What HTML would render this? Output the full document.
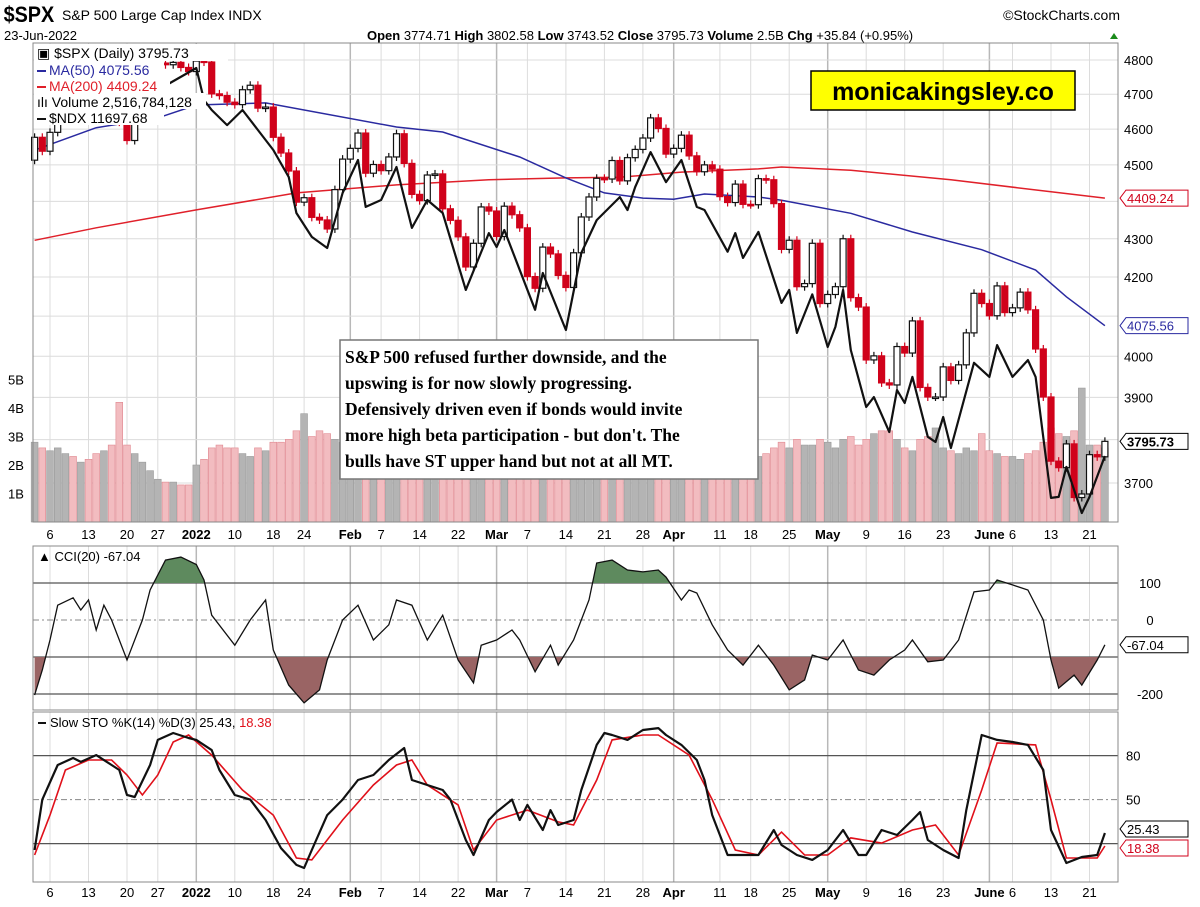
<!DOCTYPE html>
<html><head><meta charset="utf-8">
<style>
body{margin:0;background:#fff;width:1200px;height:907px;overflow:hidden;font-family:"Liberation Sans",sans-serif}
svg{position:absolute;left:0;top:0}
</style></head>
<body>
<svg id="chart" width="1200" height="907" viewBox="0 0 1200 907" xmlns="http://www.w3.org/2000/svg" font-family="Liberation Sans, sans-serif">
<g>
<text x="4" y="22" font-size="22" font-weight="bold" transform="scale(0.9,1)">$SPX</text>
<text x="62" y="20" font-size="14">S&amp;P 500 Large Cap Index  INDX</text>
<text x="4" y="40" font-size="13">23-Jun-2022</text>
<text x="1120" y="20" font-size="14" text-anchor="end">©StockCharts.com</text>
<text x="367" y="40" font-size="13"><tspan font-weight="bold">Open</tspan> 3774.71 <tspan font-weight="bold">High</tspan> 3802.58 <tspan font-weight="bold">Low</tspan> 3743.52 <tspan font-weight="bold">Close</tspan> 3795.73 <tspan font-weight="bold">Volume</tspan> 2.5B <tspan font-weight="bold">Chg</tspan> +35.84 (+0.95%)</text>
<polygon points="1110,39 1118,39 1114,33" fill="#1a8a1a"/>
</g>
<g id="grid"></g>
<g id="vol"></g>
<g id="ma"></g>
<g id="cand"></g>
<g id="ind"></g>
<g id="frames"></g>
<g id="labels"></g>
</svg>
<script>
const prevClose = 4513;
const closes = [4577,4538,
4591,4686,4701,4668,4712,4669,4634,4710,4669,4620,4568,4649,4697,4726,4791,4786,4793,4778,4766,
4797,4794,4701,4696,4677,4670,4713,4726,4660,4663,4577,4533,4483,4398,4410,4357,4350,4326,4432,4516,
4546,4589,4477,4501,4484,4522,4587,4504,4419,4402,4472,4475,4380,4349,4305,4226,4288,4385,4374,
4306,4387,4364,4329,4201,4171,4278,4260,4204,4173,4263,4358,4412,4463,4461,4512,4456,4520,4543,4575,4632,4602,4530,
4546,4583,4525,4481,4500,4488,4413,4397,4447,4392,4391,4462,4459,4394,4272,4296,4175,4183,4288,4132,
4155,4175,4300,4147,4123,3991,4001,3935,3930,4024,4008,4088,3924,3901,3901,3974,3941,3979,4058,4158,4132,
4101,4177,4109,4121,4161,4116,4018,3901,3750,3735,3790,3667,3675,3765,3760,3796];
const volumes = [2.8,2.6,2.5,2.6,2.4,2.3,2.1,2.2,2.4,2.5,2.7,4.2,2.7,2.4,2.1,1.8,1.5,1.4,1.4,1.3,1.3,
2.0,2.2,2.6,2.7,2.6,2.6,2.4,2.3,2.6,2.5,2.8,2.8,2.9,3.2,3.8,3.0,3.2,3.1,2.9,2.8,
2.8,2.9,2.8,2.8,2.6,2.5,2.6,2.9,2.7,2.6,2.5,2.4,2.6,2.9,2.8,2.9,3.4,2.9,3.0,
3.1,2.8,2.6,2.8,3.2,3.4,2.9,2.7,2.6,2.8,2.9,3.2,3.1,3.6,2.6,2.5,2.3,2.4,2.3,2.3,2.6,2.4,2.6,
2.3,2.3,2.4,2.6,2.5,2.3,2.3,2.4,2.3,2.2,2.1,2.3,2.4,2.6,2.8,2.6,2.9,2.7,2.7,2.9,
2.8,2.6,2.9,3.0,2.7,2.9,3.1,3.2,3.2,2.9,2.6,2.5,2.9,3.0,3.3,2.6,2.5,2.4,2.6,2.5,3.1,
2.5,2.4,2.3,2.3,2.2,2.4,2.5,2.8,3.3,3.1,3.0,3.2,4.7,2.7,2.7,2.6];
const ma50Idx = [0,8,16,21,30,47,53,63,69,74,79,83,87,94,97,106,114,123,130,134,139];
const ma50Val = [4541,4604,4632,4669,4675,4606,4592,4522,4464,4423,4409,4406,4420,4412,4403,4368,4318,4271,4218,4149,4076];
const ma200Idx = [0,8,21,34,47,59,69,76,84,94,97,106,119,132,139];
const ma200Val = [4296,4329,4377,4423,4445,4459,4464,4466,4480,4489,4494,4485,4459,4426,4409];
const ndxIdx = [0,2,7,12,16,21,22,23,25,27,29,31,33,34,36,38,40,42,43,45,47,49,51,53,56,59,60,61,65,66,69,71,73,76,77,78,80,82,84,86,87,90,91,92,94,97,98,99,101,103,104,105,106,108,109,111,112,113,114,116,117,118,119,122,124,125,127,129,130,132,133,134,136,137,139];
const ndxVal = [16000,16038,16110,15967,16181,16500,16038,15897,15686,15897,15617,15343,14981,14510,14205,14066,14769,15208,14588,14678,15114,14319,14678,14510,13553,14254,14079,14292,13316,13758,13080,14004,14419,14716,14548,14848,15315,14913,15208,14588,14548,14020,14254,13943,14268,13398,13553,13047,13500,12885,13116,13553,12850,12217,12325,11949,12403,12260,12547,11898,11844,12109,11781,12705,12547,12906,12547,12736,12547,11271,11281,11585,11121,11281,11698];
const cciIdx = [0,1,2,3,5,6,7,8,9,10,12,14,15,17,19,21,22,23,26,28,30,31,33,35,37,38,40,42,44,46,47,49,51,53,55,57,58,60,62,63,65,67,68,70,72,73,75,77,79,81,82,84,85,86,88,90,92,94,96,98,100,101,103,105,107,109,111,113,114,116,118,120,122,124,125,127,129,131,132,133,135,136,138,139];
const cciVal = [-203,-135,-54,40,60,27,54,-27,40,0,-108,0,81,162,170,150,108,13,-68,0,54,-81,-176,-224,-189,-108,0,40,-54,-13,54,40,-54,13,-108,-170,-68,-54,-27,-54,-140,-68,-122,-54,54,154,162,135,130,135,116,54,81,73,-13,-81,-122,-68,-122,-189,-162,-95,-108,-54,-135,-149,-108,-81,-54,-113,-108,-54,76,81,108,95,81,0,-108,-184,-149,-176,-108,-67];
const kIdx = [0,1,3,5,6,8,10,11,12,13,15,16,18,20,21,23,24,26,28,30,32,34,35,36,38,40,42,44,46,48,49,51,53,54,56,57,59,60,62,63,64,66,67,68,70,71,73,74,75,77,79,81,82,84,86,87,88,90,92,94,96,97,99,101,103,105,107,108,110,112,114,115,116,118,120,121,123,125,127,129,131,132,134,136,138,139];
const kVal = [15.7,50,73.6,78.4,75.7,80.4,73.6,70.2,53.2,51.8,73.6,90.7,95.4,92,90.7,83.8,70.2,53.2,50,36.1,17,5.5,3.4,15.7,39.5,50,63.4,66.8,77,85.2,63.4,60,56.6,50,22.5,12.3,36.1,41.6,50,36.1,46.4,29.3,42.9,32.7,36.1,56.6,87.3,95.4,94.1,90.7,97.5,98.8,94.1,87.3,77,63.4,39.5,12.3,12.3,12.3,29.3,19.1,12.3,8.9,15.7,29.3,12.3,12.3,29.3,25.9,36.1,41.6,22.5,15.7,10.2,42.9,94.1,90.7,89.3,87.3,70.2,29.3,6.8,10.9,12.3,27.3];
const dIdx = [0,2,4,7,10,12,14,16,18,20,23,27,31,34,36,40,44,47,49,51,55,57,60,64,68,70,73,75,79,81,85,88,91,94,97,100,103,106,110,114,117,120,123,125,130,132,134,138,139];
const dVal = [12.3,39.5,70.2,77,77,66.8,53.2,66.8,89.3,94.1,80.4,56.6,39.5,10.2,8.9,36.1,60,73.6,77,60,46.4,15.7,36.1,42.9,34.8,32.7,63.4,90.7,94.1,94.1,80.4,50,15.7,12.3,27.9,12.3,12.3,23.9,20.4,29.3,32.7,12.3,56.6,88.6,87.3,50,10.2,10.2,18.4];
const dateLabels = ["6","13","20","27","2022","10","18","24","Feb","7","14","22","Mar","7","14","21","28","Apr","11","18","25","May","9","16","23","June","6","13","21"];
const dateIdx = [2,7,12,16,21,26,31,35,41,45,50,55,60,64,69,74,79,83,89,93,98,103,108,113,118,124,127,132,137];
const priceTicks = [4800,4700,4600,4500,4400,4300,4200,4100,4000,3900,3800,3700];
const volTicks = [1,2,3,4,5];
const cciTicks = [100,0,-100,-200];
const stoTicks = [80,50,20];

const NS="http://www.w3.org/2000/svg";
const L=33,R=1118;
const xS=i=>34.6+7.7*i;
const yP=p=>60+1625*Math.log(4800/p);
const yN=v=>68+1128*Math.log(16500/v);
const yV=v=>522-28.5*v;
const yC=v=>620-0.37*v;
const yS=v=>873-1.467*v;
function mk(tag,attrs,parent){const e=document.createElementNS(NS,tag);for(const k in attrs)e.setAttribute(k,attrs[k]);parent.appendChild(e);return e;}
const G=id=>document.getElementById(id);
function txt(parent,x,y,s,size,extra){const t=mk('text',Object.assign({x:x,y:y,'font-size':size},extra||{}),parent);t.textContent=s;return t;}
function poly(idx,val,fy){return idx.map((d,j)=>xS(d).toFixed(1)+','+fy(val[j]).toFixed(1)).join(' ');}

const grid=G('grid');
const panels=[[43,522],[546,710],[712,882]];
dateIdx.forEach((d,j)=>{
  const major=isNaN(+dateLabels[j])||dateLabels[j]==="2022";
  panels.forEach(p=>{const l=mk('line',{x1:xS(d),x2:xS(d),y1:p[0],y2:p[1],stroke:major?'#b8b8b8':'#dcdcdc','stroke-width':major?1.5:1},grid);
  
  });
});
priceTicks.forEach(p=>{const l=mk('line',{x1:L,x2:R,y1:yP(p),y2:yP(p),stroke:'#dcdcdc'},grid);
  
  });
cciTicks.forEach(v=>{const l=mk('line',{x1:L,x2:R,y1:yC(v),y2:yC(v),stroke:v===0?'#888':'#555','stroke-dasharray':v===0?'6,3,2,3':'', 'stroke-width':v===0?1:1.2},grid);
  
  });
stoTicks.forEach(v=>{const l=mk('line',{x1:L,x2:R,y1:yS(v),y2:yS(v),stroke:v===50?'#888':'#555','stroke-dasharray':v===50?'6,3,2,3':'','stroke-width':v===50?1:1.2},grid);
  
  });

const vol=G('vol');
volumes.forEach((v,i)=>{const prev=i?closes[i-1]:prevClose;const down=closes[i]<prev;
  const b=mk('rect',{x:xS(i)-3.4,y:yV(v),width:6.8,height:522-yV(v),fill:down?'#f2bcc0':'#b4b4b4',stroke:down?'#e08890':'#9a9a9a','stroke-width':0.6},vol);
  
  });

const ma=G('ma');
const m200=mk('polyline',{points:poly(ma200Idx,ma200Val,yP),fill:'none',stroke:'#e0202a','stroke-width':1.5},ma);

const m50=mk('polyline',{points:poly(ma50Idx,ma50Val,yP),fill:'none',stroke:'#2a2aa0','stroke-width':1.5},ma);


const cand=G('cand');
closes.forEach((c,i)=>{const o=i?closes[i-1]:prevClose;const up=c>=o;const x=xS(i);
  const top=yP(Math.max(o,c)),bot=yP(Math.min(o,c));
  const g=mk('g',{},cand);
  
  
  const col=up?'#111':'#d0021b';
  mk('line',{x1:x,x2:x,y1:top-4,y2:bot+4,stroke:col,'stroke-width':1.2},g);
  mk('rect',{x:x-3,y:top,width:6,height:Math.max(1.5,bot-top),fill:up?'#fff':'#d0021b',stroke:col,'stroke-width':1.2},g);
});
const nd=mk('polyline',{points:poly(ndxIdx,ndxVal,yN),fill:'none',stroke:'#111','stroke-width':2.2,'stroke-linejoin':'round'},cand);


const ind=G('ind');
const defs=mk('defs',{},ind);
const c1=mk('clipPath',{id:'cAbove'},defs);mk('rect',{x:L,y:546,width:R-L,height:yC(100)-546},c1);
const c2=mk('clipPath',{id:'cBelow'},defs);mk('rect',{x:L,y:yC(-100),width:R-L,height:710-yC(-100)},c2);
const cpts=poly(cciIdx,cciVal,yC);
const x0=xS(cciIdx[0]),x1=xS(cciIdx[cciIdx.length-1]);
const fa=mk('polygon',{points:x0+','+yC(100)+' '+cpts+' '+x1+','+yC(100),fill:'#5e8a5e','clip-path':'url(#cAbove)'},ind);

const fb=mk('polygon',{points:x0+','+yC(-100)+' '+cpts+' '+x1+','+yC(-100),fill:'#9a6464','clip-path':'url(#cBelow)'},ind);

const cl=mk('polyline',{points:cpts,fill:'none',stroke:'#111','stroke-width':1.3},ind);

const dl=mk('polyline',{points:poly(dIdx,dVal,yS),fill:'none',stroke:'#e0101a','stroke-width':1.6},ind);

const kl=mk('polyline',{points:poly(kIdx,kVal,yS),fill:'none',stroke:'#111','stroke-width':2.2,'stroke-linejoin':'round'},ind);


const fr=G('frames');
panels.forEach(p=>{const r=mk('rect',{x:L,y:p[0],width:R-L,height:p[1]-p[0],fill:'none',stroke:'#888'},fr);
  });

const lab=G('labels');
priceTicks.forEach(p=>{if(p===4400||p===4100||p===3800)return;const t=txt(lab,1124,yP(p)+5,String(p),13);
  });
volTicks.forEach(v=>{const t=txt(lab,8,yV(v)+5,v+'B',13);
  });
cciTicks.forEach(v=>{if(v===-100)return;const t=txt(lab,1150,yC(v)+5,String(v),13,{'text-anchor':'middle'});
  });
stoTicks.forEach(v=>{if(v===20)return;const t=txt(lab,1126,yS(v)+5,String(v),13);
  });
function tag(y,s,col,bold,name){const g=mk('g',{},lab);
  
  
  mk('polygon',{points:`1120,${y} 1126,${y-8} 1188,${y-8} 1188,${y+8} 1126,${y+8}`,fill:'#fff',stroke:col},g);
  txt(g,1127,y+5,s,13,{fill:col,'font-weight':bold?'bold':'normal'});}
tag(yP(ma200Val[ma200Val.length-1]),'4409.24','#d0021b',false,'ma200-value-tag');
tag(yP(ma50Val[ma50Val.length-1]),'4075.56','#2a2aa0',false,'ma50-value-tag');
tag(yP(closes[closes.length-1]),'3795.73','#000',true,'close-value-tag');
tag(yC(cciVal[cciVal.length-1]),'-67.04','#000',false,'cci-value-tag');
tag(yS(kVal[kVal.length-1])-4,'25.43','#000',false,'sto-k-value-tag');
tag(yS(dVal[dVal.length-1])+2,'18.38','#d0021b',false,'sto-d-value-tag');
[539,897].forEach(y=>{dateIdx.forEach((d,j)=>{const s=dateLabels[j];const bold=isNaN(+s)||s==='2022';
  const t=txt(lab,xS(d),y,s,13,{'text-anchor':'middle','font-weight':bold?'bold':'normal'});
  });});
</script>
<svg width="1200" height="907" style="pointer-events:none" xmlns="http://www.w3.org/2000/svg" font-family="Liberation Sans, sans-serif">
<g font-size="14">
<rect x="34" y="44" width="194" height="17" fill="#fff"/>
<rect x="34" y="61" width="130" height="16" fill="#fff"/>
<rect x="34" y="77" width="136" height="16" fill="#fff"/>
<rect x="34" y="93" width="172" height="16" fill="#fff"/>
<rect x="34" y="109" width="130" height="16" fill="#fff"/>
<text x="37" y="58">▣ $SPX (Daily) 3795.73</text>
<line x1="37" y1="71" x2="46" y2="71" stroke="#2a2aa0" stroke-width="2"/><text x="49" y="75" fill="#2a2aa0">MA(50) 4075.56</text>
<line x1="37" y1="87" x2="46" y2="87" stroke="#e0202a" stroke-width="2"/><text x="49" y="91" fill="#e0202a">MA(200) 4409.24</text>
<text x="37" y="107">ılı Volume 2,516,784,128</text>
<line x1="37" y1="119" x2="46" y2="119" stroke="#111" stroke-width="2"/><text x="49" y="123">$NDX 11697.68</text>
</g>
<g><text x="38" y="561" font-size="13">▲ CCI(20) -67.04</text></g>
<g><line x1="38" y1="723" x2="46" y2="723" stroke="#111" stroke-width="2"/><text x="50" y="727" font-size="13">Slow STO %K(14) %D(3) 25.43, <tspan fill="#e0101a">18.38</tspan></text></g>
<g>
<rect x="811" y="71" width="264" height="39" fill="#ffff00" stroke="#000" stroke-width="1.5"/>
<text x="943" y="100" font-size="25" font-weight="bold" text-anchor="middle">monicakingsley.co</text>
</g>
<g font-family="Liberation Serif, serif" font-weight="bold" font-size="17.5">
<rect x="340" y="340" width="418" height="139" fill="#fff" stroke="#777" stroke-width="1.5"/>
<text x="345" y="363">S&amp;P 500 refused further downside, and the</text>
<text x="345" y="389">upswing is for now slowly progressing.</text>
<text x="345" y="415">Defensively driven even if bonds would invite</text>
<text x="345" y="441">more high beta participation - but don't. The</text>
<text x="345" y="467">bulls have ST upper hand but not at all MT.</text>
</g>
</svg>
</body></html>
